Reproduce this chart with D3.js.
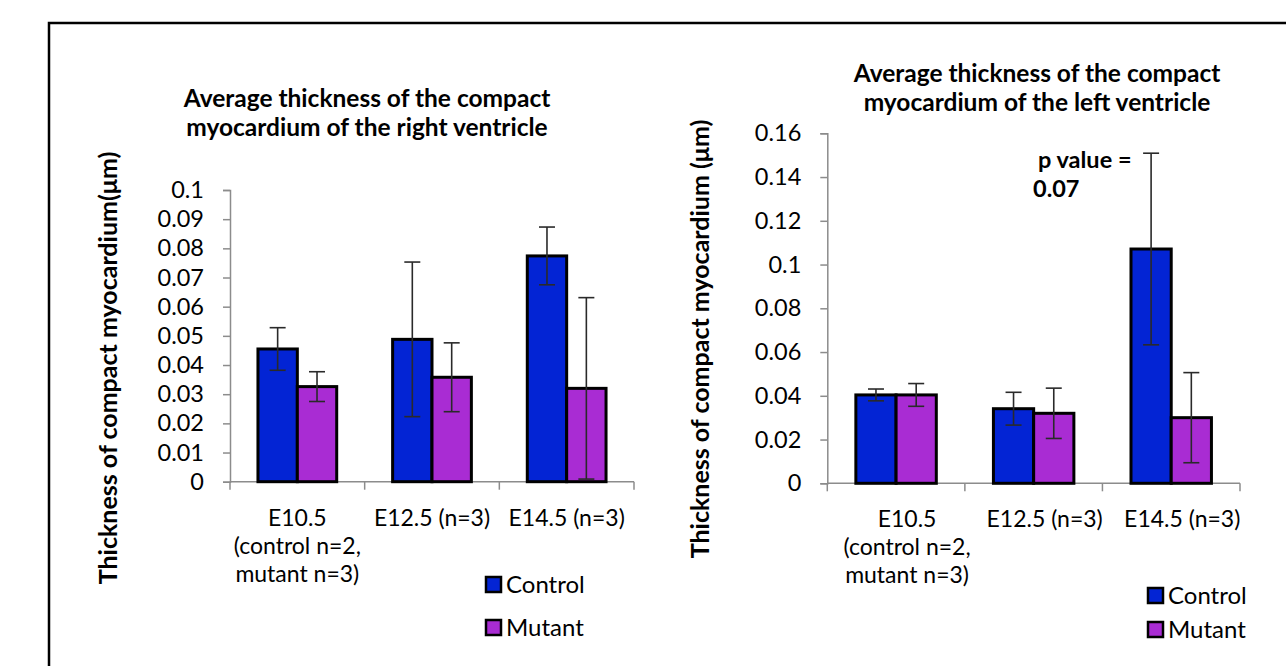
<!DOCTYPE html>
<html>
<head>
<meta charset="utf-8">
<script src="https://cdn.jsdelivr.net/npm/d3@7"></script>
<style>
  body { margin: 0; background: #fff; }
  svg { display: block; font-family: Lato, "Open Sans", sans-serif; }
</style>
</head>
<body>
<svg id="chart" width="1286" height="666"></svg>
<script>
// categories and series
const categoryLines = [
  ['E10.5', '(control n=2,', 'mutant n=3)'],
  ['E12.5 (n=3)'],
  ['E14.5 (n=3)']
];
const categories = categoryLines.map(d => d[0]);
const seriesNames = ['Control', 'Mutant'];
const seriesColors = ['#0324d4', '#a92cd3'];

// right ventricle
const rvControl = [0.0455, 0.0488, 0.0774];
const rvControlErr = [0.0073, 0.0265, 0.0099];
const rvMutant = [0.0326, 0.0358, 0.0320];
const rvMutantErr = [0.0051, 0.0118, 0.0311];
const rvTicks = [0, 0.01, 0.02, 0.03, 0.04, 0.05, 0.06, 0.07, 0.08, 0.09, 0.1];
const rvTickLabels = ['0', '0.01', '0.02', '0.03', '0.04', '0.05', '0.06', '0.07', '0.08', '0.09', '0.1'];

// left ventricle
const lvControl = [0.0404, 0.0341, 0.1071];
const lvControlErr = [0.0027, 0.0075, 0.0438];
const lvMutant = [0.0404, 0.0320, 0.0300];
const lvMutantErr = [0.0052, 0.0115, 0.0206];
const lvTicks = [0, 0.02, 0.04, 0.06, 0.08, 0.1, 0.12, 0.14, 0.16];
const lvTickLabels = ['0', '0.02', '0.04', '0.06', '0.08', '0.1', '0.12', '0.14', '0.16'];

const svg = d3.select('#chart');

// outer frame
svg.append('rect')
  .attr('x', 49).attr('y', 23)
  .attr('width', 1300).attr('height', 700)
  .attr('fill', 'none')
  .attr('stroke', '#000')
  .attr('stroke-width', 2.5);

function drawChart(opt) {
  const g = svg.append('g');

  const x = d3.scaleBand()
    .domain(categories)
    .range([opt.left, opt.right])
    .paddingInner(0).paddingOuter(0);

  const xs = d3.scaleBand()
    .domain(seriesNames)
    .range([0, x.bandwidth()])
    .paddingInner(0).paddingOuter(0.71);

  const y = d3.scaleLinear()
    .domain([0, opt.max])
    .range([opt.bottom, opt.top]);

  // y axis
  const yAxis = g.append('g')
    .attr('transform', `translate(${opt.left},0)`)
    .call(d3.axisLeft(y)
      .tickValues(opt.ticks)
      .tickFormat((d, i) => opt.tickLabels[i])
      .tickSize(7)
      .tickPadding(19));
  yAxis.select('.domain').attr('stroke', '#8c8c8c').attr('stroke-width', 1.5);
  yAxis.selectAll('.tick line').attr('stroke', '#8c8c8c').attr('stroke-width', 1.5);
  yAxis.selectAll('.tick text')
    .attr('font-size', 23.5)
    .attr('fill', '#000')
    .attr('font-family', 'Lato, sans-serif');

  // x axis with ticks at the band edges
  const edges = categories.map(c => x(c)).concat([opt.right]);
  g.append('line')
    .attr('x1', opt.left).attr('x2', opt.right)
    .attr('y1', y(0)).attr('y2', y(0))
    .attr('stroke', '#8c8c8c').attr('stroke-width', 1.5);
  g.selectAll('.xtick')
    .data(edges)
    .enter().append('line')
    .attr('x1', d => d).attr('x2', d => d)
    .attr('y1', y(0)).attr('y2', y(0) + 8)
    .attr('stroke', '#8c8c8c').attr('stroke-width', 1.5);

  // bars
  const rows = [];
  categories.forEach((c, i) => {
    opt.values.forEach((vals, s) => {
      rows.push({ cat: c, series: seriesNames[s], s: s, v: vals[i], e: opt.errors[s][i] });
    });
  });

  g.selectAll('.bar')
    .data(rows)
    .enter().append('rect')
    .attr('x', d => x(d.cat) + xs(d.series))
    .attr('y', d => y(d.v))
    .attr('width', xs.bandwidth())
    .attr('height', d => y(0) - y(d.v))
    .attr('fill', d => seriesColors[d.s])
    .attr('stroke', '#000')
    .attr('stroke-width', 3);

  // error bars
  const cx = d => x(d.cat) + xs(d.series) + xs.bandwidth() / 2;
  const err = g.selectAll('.err')
    .data(rows)
    .enter().append('g')
    .attr('stroke', '#2a2a2a')
    .attr('stroke-width', 1.6);
  err.append('line')
    .attr('x1', cx).attr('x2', cx)
    .attr('y1', d => y(d.v + d.e)).attr('y2', d => y(Math.max(0, d.v - d.e)));
  err.append('line')
    .attr('x1', d => cx(d) - 8).attr('x2', d => cx(d) + 8)
    .attr('y1', d => y(d.v + d.e)).attr('y2', d => y(d.v + d.e));
  err.append('line')
    .attr('x1', d => cx(d) - 8).attr('x2', d => cx(d) + 8)
    .attr('y1', d => y(Math.max(0, d.v - d.e))).attr('y2', d => y(Math.max(0, d.v - d.e)));

  // category labels
  const lab = g.selectAll('.xlab')
    .data(categoryLines)
    .enter().append('text')
    .attr('text-anchor', 'middle')
    .attr('font-size', 23)
    .attr('fill', '#000');
  lab.selectAll('tspan')
    .data((d, i) => d.map(t => ({ t, i })))
    .enter().append('tspan')
    .attr('x', d => x(categories[d.i]) + x.bandwidth() / 2 + opt.labelDx)
    .attr('y', (d, j) => opt.labelY + j * 28)
    .text(d => d.t);

  // title
  g.append('text')
    .attr('text-anchor', 'middle')
    .attr('font-size', 24.5)
    .attr('font-weight', 'bold')
    .selectAll('tspan')
    .data(opt.title)
    .enter().append('tspan')
    .attr('x', opt.titleX)
    .attr('y', (d, j) => opt.titleY + j * 29)
    .text(d => d);

  // y axis title
  g.append('text')
    .attr('transform', `translate(${opt.yTitleX},${opt.yTitleY}) rotate(-90)`)
    .attr('text-anchor', 'middle')
    .attr('font-size', 25)
    .attr('font-weight', 'bold')
    .text(opt.yTitle);

  // legend
  const leg = g.selectAll('.leg')
    .data(seriesNames)
    .enter().append('g')
    .attr('transform', (d, i) => `translate(${opt.legX},${opt.legY + i * opt.legStep})`);
  leg.append('rect')
    .attr('x', 0).attr('y', -8)
    .attr('width', 15).attr('height', 15)
    .attr('fill', (d, i) => seriesColors[i])
    .attr('stroke', '#000').attr('stroke-width', 2.5);
  leg.append('text')
    .attr('x', 20).attr('y', 8)
    .attr('font-size', 24)
    .text(d => d);

  return { x, y };
}

drawChart({
  left: 230, right: 634, top: 190, bottom: 481.7, max: 0.1,
  ticks: rvTicks, tickLabels: rvTickLabels,
  values: [rvControl, rvMutant], errors: [rvControlErr, rvMutantErr],
  labelY: 526, labelDx: 0,
  title: ['Average thickness of the compact', 'myocardium of the right ventricle'],
  titleX: 367, titleY: 107,
  yTitle: 'Thickness of compact myocardium(\u03bcm)', yTitleX: 117, yTitleY: 368,
  legX: 486, legY: 585, legStep: 43
});

const lv = drawChart({
  left: 827.3, right: 1240, top: 133.3, bottom: 483.3, max: 0.16,
  ticks: lvTicks, tickLabels: lvTickLabels,
  values: [lvControl, lvMutant], errors: [lvControlErr, lvMutantErr],
  labelY: 527, labelDx: 11,
  title: ['Average thickness of the compact', 'myocardium of the left ventricle'],
  titleX: 1037, titleY: 82,
  yTitle: 'Thickness of compact myocardium (\u03bcm)', yTitleX: 709, yTitleY: 339,
  legX: 1148, legY: 596, legStep: 34
});

// p value annotation
const pv = svg.append('text')
  .attr('font-size', 23.5)
  .attr('font-weight', 'bold');
pv.append('tspan').attr('x', 1038).attr('y', lv.y(0.144)).text('p value =');
pv.append('tspan').attr('x', 1033).attr('y', lv.y(0.131)).text('0.07');
</script>
</body>
</html>
